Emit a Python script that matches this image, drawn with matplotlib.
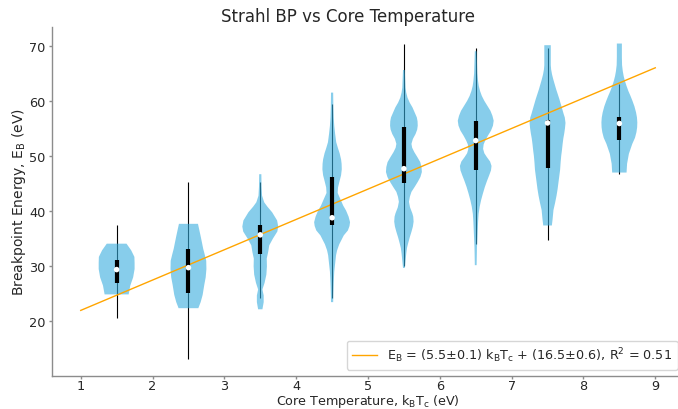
import numpy as np
import matplotlib
matplotlib.use("Agg")
import matplotlib.pyplot as plt

# ---------------- data ----------------
positions = [1.5, 2.5, 3.5, 4.5, 5.5, 6.5, 7.5, 8.5]

# violin density profiles: energy (eV) and relative density
e1 = [24.9, 26.5, 28.0, 29.5, 30.6, 31.7, 32.9, 34.1]
d1 = [0.67, 0.76, 0.92, 1.00, 1.00, 0.99, 0.81, 0.55]

e2 = [22.4, 23.5, 24.8, 26.6, 28.0, 29.5, 31.0, 32.2, 33.2, 34.5, 35.6, 37.7]
d2 = [0.55, 0.68, 0.79, 0.88, 0.96, 1.00, 0.99, 0.90, 0.82, 0.74, 0.67, 0.53]

e3 = [22.2, 23.5, 24.7, 25.8, 27.0, 28.5, 30.0, 31.4, 32.6, 33.8, 35.0, 36.3,
      37.2, 38.3, 39.8, 40.8, 41.6, 42.8, 44.5, 46.7]
d3 = [0.12, 0.19, 0.19, 0.12, 0.24, 0.34, 0.37, 0.36, 0.44, 0.50, 0.70, 0.95,
      1.00, 0.94, 0.66, 0.40, 0.22, 0.10, 0.07, 0.06]

e4 = [23.5, 25.0, 27.0, 29.0, 30.5, 32.0, 32.9, 34.0, 34.7, 35.6, 36.5, 37.3,
      38.0, 39.0, 40.1, 41.0, 41.9, 43.3, 44.3, 45.5, 46.5, 47.6, 48.6, 49.4,
      50.5, 51.5, 52.5, 54.0, 55.5, 57.0, 59.0, 61.5]
d4 = [0.06, 0.07, 0.09, 0.12, 0.17, 0.22, 0.28, 0.40, 0.51, 0.65, 0.88, 0.97,
      1.00, 0.92, 0.78, 0.62, 0.50, 0.31, 0.33, 0.42, 0.50, 0.54, 0.53, 0.50,
      0.42, 0.32, 0.23, 0.17, 0.12, 0.09, 0.07, 0.06]

e5 = [29.7, 31.0, 32.3, 33.3, 34.1, 35.2, 36.25, 37.2, 38.1, 39.0, 39.6, 40.7,
      41.7, 42.6, 43.5, 44.4, 45.3, 46.2, 47.1, 48.0, 48.9, 49.8, 50.7, 51.5,
      52.2, 53.1, 54.0, 54.8, 55.5, 56.3, 57.0, 57.9, 58.8, 59.7, 60.6, 61.5,
      62.4, 64.0, 65.6]
d5 = [0.05, 0.09, 0.13, 0.17, 0.23, 0.32, 0.42, 0.50, 0.54, 0.52, 0.47, 0.34,
      0.28, 0.33, 0.42, 0.60, 0.77, 0.92, 1.00, 0.98, 0.91, 0.75, 0.58, 0.46,
      0.42, 0.50, 0.65, 0.74, 0.77, 0.76, 0.72, 0.60, 0.48, 0.32, 0.20, 0.13,
      0.09, 0.07, 0.05]

e6 = [30.2, 33.5, 36.5, 38.0, 39.5, 40.8, 42.0, 43.2, 44.4, 45.5, 46.5, 47.4,
      48.2, 49.0, 49.8, 50.5, 51.3, 52.1, 52.8, 53.7, 54.6, 55.5, 56.4, 57.3,
      58.2, 59.1, 60.0, 60.9, 61.8, 62.7, 63.6, 65.0, 67.0, 69.0]
d6 = [0.05, 0.07, 0.11, 0.13, 0.16, 0.22, 0.30, 0.40, 0.51, 0.63, 0.75, 0.85,
      0.88, 0.80, 0.62, 0.48, 0.41, 0.44, 0.53, 0.68, 0.85, 0.96, 1.00, 0.93,
      0.82, 0.65, 0.48, 0.34, 0.24, 0.17, 0.13, 0.09, 0.07, 0.05]

e7 = [37.4, 38.5, 40.2, 41.5, 42.8, 44.0, 45.0, 46.5, 47.5, 48.9, 50.0, 51.0,
      52.2, 53.2, 54.1, 55.0, 56.0, 57.0, 57.6, 58.5, 59.4, 60.3, 61.2, 62.1,
      63.0, 63.9, 64.8, 65.7, 66.5, 70.1]
d7 = [0.24, 0.28, 0.33, 0.42, 0.50, 0.56, 0.60, 0.66, 0.70, 0.73, 0.76, 0.80,
      0.84, 0.88, 0.93, 0.97, 1.00, 0.96, 0.90, 0.82, 0.74, 0.66, 0.57, 0.48,
      0.40, 0.32, 0.25, 0.20, 0.18, 0.18]

e8 = [47.0, 48.6, 50.4, 52.2, 53.3, 54.3, 55.2, 56.1, 57.0, 57.9, 59.0, 60.0,
      60.9, 61.8, 62.7, 63.6, 64.5, 65.4, 66.5, 68.0, 70.4]
d8 = [0.40, 0.43, 0.53, 0.72, 0.87, 0.95, 0.99, 1.00, 0.98, 0.93, 0.84, 0.73,
      0.62, 0.50, 0.40, 0.31, 0.24, 0.19, 0.15, 0.14, 0.14]

energy_grids = [e1, e2, e3, e4, e5, e6, e7, e8]
densities = [d1, d2, d3, d4, d5, d6, d7, d8]

# box statistics
q1 = [26.9, 25.2, 32.15, 37.4, 45.1, 47.4, 47.9, 52.9]
medians = [29.4, 29.75, 35.7, 38.8, 47.7, 52.8, 56.0, 55.9]
q3 = [31.1, 33.2, 37.4, 46.2, 55.2, 56.3, 56.6, 57.0]
whisker_lo = [20.6, 13.2, 24.3, 24.2, 30.0, 34.05, 34.85, 46.75]
whisker_hi = [37.4, 45.2, 45.3, 59.4, 70.3, 69.65, 69.65, 63.15]

# linear fit
fit_x = np.array([1.0, 9.0])
slope, intercept = 5.5, 16.5
fit_label = (r"E$_\mathrm{B}$ = (5.5$\pm$0.1) k$_\mathrm{B}$T$_\mathrm{c}$"
             r" + (16.5$\pm$0.6), R$^2$ = 0.51")

# ---------------- plot ----------------
W, H = 678, 410
fig = plt.figure(figsize=(W / 100, H / 100), dpi=100)
ax_bottom_px, ax_top_px = 377, 28
ax = fig.add_axes([52 / W, (H - ax_bottom_px) / H, (684 - 52) / W,
                   (ax_bottom_px - ax_top_px) / H])

vpstats = []
for eg, dens, m in zip(energy_grids, densities, medians):
    eg = np.asarray(eg)
    vpstats.append(dict(coords=eg, vals=np.asarray(dens), mean=m, median=m,
                        min=eg.min(), max=eg.max()))

ax.vlines(positions, whisker_lo, whisker_hi, color="k", lw=0.8, zorder=1)

parts = ax.violin(vpstats, positions=positions, widths=0.5,
                  showmeans=False, showextrema=False, showmedians=False)
for pc in parts["bodies"]:
    pc.set_facecolor("#37ADDE")
    pc.set_edgecolor("none")
    pc.set_alpha(0.6)
    pc.set_zorder(2)

ax.plot(fit_x, slope * fit_x + intercept, color="orange", lw=1.0,
        label=fit_label, zorder=2.5)
ax.vlines(positions, q1, q3, color="k", lw=3.0, zorder=3)
ax.scatter(positions, medians, marker="o", color="white", s=16, zorder=4,
           edgecolors="none")

ax.set_xlim(0.6, 9.4)
ax.set_ylim(10.1, 73.4)
ax.set_xticks(range(1, 10))
ax.set_yticks([20, 30, 40, 50, 60, 70])

for s in ["top", "right"]:
    ax.spines[s].set_visible(False)
for s in ["left", "bottom"]:
    ax.spines[s].set_color("#8c8c8c")
    ax.spines[s].set_linewidth(1.0)
ax.tick_params(colors="#8c8c8c", labelcolor="#262626", labelsize=9.3,
               length=2.5, width=1.0)
ax.tick_params(axis="x", pad=0.5, length=2)
ax.tick_params(axis="y", pad=2)

ax.set_title("Strahl BP vs Core Temperature", fontsize=12, color="#262626",
             pad=4, x=0.468)
ax.set_xlabel(r"Core Temperature, k$_\mathrm{B}$T$_\mathrm{c}$ (eV)",
              fontsize=9.2, color="#262626", va="bottom")
ax.xaxis.set_label_coords(0.5, -(409.6 - ax_bottom_px) / (ax_bottom_px - ax_top_px))
ax.set_ylabel(r"Breakpoint Energy, E$_\mathrm{B}$ (eV)", fontsize=10,
              color="#262626", labelpad=1)

leg = ax.legend(loc="lower right", fontsize=9.2, handlelength=2.0)
for t in leg.get_texts():
    t.set_color("#262626")

fig.savefig("out.png", dpi=100)
